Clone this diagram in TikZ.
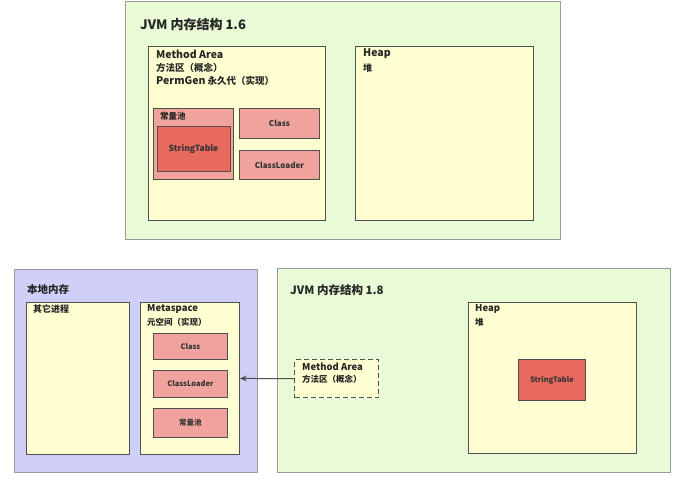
\documentclass[tikz,border=0pt]{standalone}
\usepackage{fontspec}
\setmainfont{Noto Sans CJK SC}
\usetikzlibrary{arrows.meta}
\definecolor{jvmgreen}{HTML}{E8FAD6}
\definecolor{areayellow}{HTML}{FFFFD2}
\definecolor{pinkbox}{HTML}{EFA39C}
\definecolor{redbox}{HTML}{E8695E}
\definecolor{nativepurple}{HTML}{CFCFF8}
\definecolor{edge}{HTML}{505050}
\definecolor{outeredge}{HTML}{9A9A9A}
\newcommand{\fs}[1]{\fontsize{#1}{#1}\selectfont}
\tikzset{
  boxbase/.style={rectangle, anchor=north west, inner sep=0pt, line width=0.9pt},
  outerbox/.style={boxbase, draw=outeredge, line width=0.7pt},
  areabox/.style={boxbase, draw=edge, fill=areayellow},
  pinkitem/.style={boxbase, draw=edge, fill=pinkbox, font=\bfseries\fs{8}, text=black!80},
  reditem/.style={boxbase, draw=edge, fill=redbox, font=\bfseries\fs{8.5}, text=black!80},
  txt/.style={anchor=west, inner sep=0pt, font=\bfseries, text=black!85},
}
\begin{document}
\begin{tikzpicture}[x=1pt,y=-1pt]
\useasboundingbox[fill=white] (0,0) rectangle (680,490);
% ---------- JVM 1.6 ----------
\node[outerbox, fill=jvmgreen, minimum width=435pt, minimum height=238pt] (jvm16) at (125,1) {};
\node[txt, font=\bfseries\fs{13}] (t16) at (140,25) {JVM 内存结构 1.6};
\node[areabox, minimum width=177pt, minimum height=174pt] (ma16) at (148,46) {};
\node[txt, font=\bfseries\fs{10.5}] (ma16a) at (156,54) {Method Area};
\node[txt, font=\bfseries\fs{9.5}] (ma16b) at (156,68) {方法区（概念）};
\node[txt, font=\bfseries\fs{9.5}] (ma16c) at (156,81) {{\fs{10.5}PermGen} 永久代（实现）};
\node[areabox, minimum width=178pt, minimum height=174pt] (heap16) at (355,46) {};
\node[txt, font=\bfseries\fs{10.5}] (heap16a) at (363,54) {Heap};
\node[txt, font=\bfseries\fs{9}] (heap16b) at (363,68) {堆};
\node[pinkitem, minimum width=80pt, minimum height=71pt] (pool16) at (153,108) {};
\node[txt, font=\bfseries\fs{8.5}] (pool16t) at (160,116) {常量池};
\node[reditem, minimum width=73pt, minimum height=45pt, anchor=center] (st16) at (193.5,148.5) {StringTable};
\node[pinkitem, minimum width=80pt, minimum height=30pt] (cls16) at (239,108) {Class};
\node[pinkitem, minimum width=80pt, minimum height=29pt] (cl16) at (239,150) {ClassLoader};
% ---------- Native memory ----------
\node[outerbox, fill=nativepurple, minimum width=243pt, minimum height=203pt] (native) at (14,269) {};
\node[txt, font=\bfseries\fs{10.5}] (nativet) at (27,290) {本地内存};
\node[areabox, minimum width=103pt, minimum height=152pt] (other) at (26,302) {};
\node[txt, font=\bfseries\fs{9}] (othert) at (33,309) {其它进程};
\node[areabox, minimum width=99pt, minimum height=152pt] (meta) at (140,302) {};
\node[txt, font=\bfseries\fs{9.5}] (metaa) at (147,309) {Metaspace};
\node[txt, font=\bfseries\fs{8.5}] (metab) at (147,322) {元空间（实现）};
\node[pinkitem, font=\bfseries\fs{7.5}, minimum width=74pt, minimum height=26pt] (cls8) at (153,333) {Class};
\node[pinkitem, font=\bfseries\fs{7.5}, minimum width=74pt, minimum height=27pt] (cl8) at (153,370) {ClassLoader};
\node[pinkitem, font=\bfseries\fs{7.5}, minimum width=74pt, minimum height=29pt] (pool8) at (153,408) {常量池};
% ---------- JVM 1.8 ----------
\node[outerbox, fill=jvmgreen, minimum width=393pt, minimum height=204pt] (jvm18) at (277,268) {};
\node[txt, font=\bfseries\fs{11.5}] (t18) at (290,290) {JVM 内存结构 1.8};
\node[areabox, dashed, dash pattern=on 5pt off 3pt, line width=1.2pt, minimum width=84pt, minimum height=38pt] (ma18) at (294,359) {};
\node[txt, font=\bfseries\fs{9.5}] (ma18a) at (302,367) {Method Area};
\node[txt, font=\bfseries\fs{8.5}] (ma18b) at (302,379) {方法区（概念）};
\node[areabox, minimum width=168pt, minimum height=151pt] (heap18) at (468,302) {};
\node[txt, font=\bfseries\fs{9.5}] (heap18a) at (475,309) {Heap};
\node[txt, font=\bfseries\fs{8.5}] (heap18b) at (475,322) {堆};
\node[reditem, font=\bfseries\fs{7.5}, minimum width=67pt, minimum height=41pt] (st18) at (518,359) {StringTable};
% ---------- connector ----------
\draw[edge, line width=1pt, -{Stealth[length=7pt,width=6pt]}] (ma18.west) -- (meta.east);
\end{tikzpicture}
\end{document}
